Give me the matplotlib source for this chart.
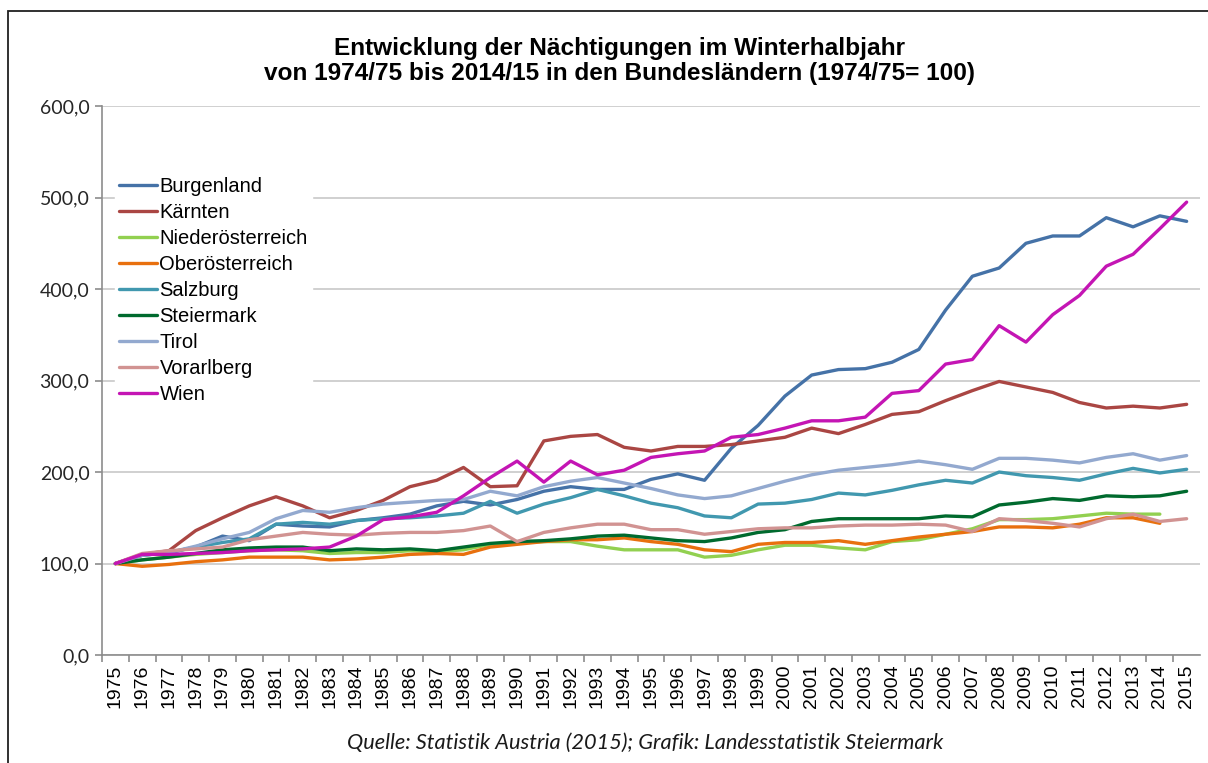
import matplotlib
matplotlib.use('Agg')
import matplotlib.pyplot as plt
from matplotlib.ticker import FuncFormatter, MultipleLocator
from matplotlib.patches import Rectangle

years = list(range(1975, 2016))

burgenland = [100, 109, 112, 118, 130, 125, 143, 141, 140, 147, 150, 154, 163,
              168, 164, 170, 179, 184, 181, 181, 192, 198, 191, 226, 251, 283,
              306, 312, 313, 320, 334, 377, 414, 423, 450, 458, 458, 478, 468,
              480, 474]
kaernten = [100, 110, 114, 136, 150, 163, 173, 163, 150, 158, 169, 184, 191,
            205, 184, 185, 234, 239, 241, 227, 223, 228, 228, 230, 234, 238,
            248, 242, 252, 263, 266, 278, 289, 299, 293, 287, 276, 270, 272,
            270, 274]
niederoe = [100, 104, 107, 110, 112, 114, 115, 114, 111, 112, 112, 114, 113,
            115, 121, 123, 124, 124, 119, 115, 115, 115, 107, 109, 115, 120,
            120, 117, 115, 124, 126, 132, 138, 148, 148, 149, 152, 155, 154,
            154]
oberoe = [100, 97, 99, 102, 104, 107, 107, 107, 104, 105, 107, 110, 111,
          110, 118, 121, 124, 126, 126, 128, 124, 121, 115, 113, 121, 123,
          123, 125, 121, 125, 129, 132, 135, 140, 140, 139, 143, 150, 150,
          144]
salzburg = [100, 109, 112, 118, 123, 127, 143, 145, 143, 147, 149, 150, 152,
            155, 168, 155, 165, 172, 181, 174, 166, 161, 152, 150, 165, 166,
            170, 177, 175, 180, 186, 191, 188, 200, 196, 194, 191, 198, 204,
            199, 203]
steiermark = [100, 104, 107, 111, 115, 117, 118, 118, 114, 116, 115, 116, 114,
              118, 122, 124, 125, 127, 130, 131, 128, 125, 124, 128, 134, 137,
              146, 149, 149, 149, 149, 152, 151, 164, 167, 171, 169, 174, 173,
              174, 179]
tirol = [100, 109, 112, 119, 127, 134, 149, 158, 156, 161, 165, 167, 169,
         170, 179, 174, 184, 190, 194, 188, 182, 175, 171, 174, 182, 190,
         197, 202, 205, 208, 212, 208, 203, 215, 215, 213, 210, 216, 220,
         213, 218]
vorarlberg = [100, 111, 114, 116, 118, 126, 130, 134, 132, 131, 133, 134, 134,
              136, 141, 124, 134, 139, 143, 143, 137, 137, 132, 135, 138, 139,
              139, 141, 142, 142, 143, 142, 135, 149, 147, 144, 140, 149, 154,
              146, 149]
wien = [100, 110, 110, 111, 112, 114, 115, 116, 118, 130, 148, 151, 156,
        174, 194, 212, 189, 212, 197, 202, 216, 220, 223, 238, 241, 248,
        256, 256, 260, 286, 289, 318, 323, 360, 342, 372, 393, 425, 438,
        466, 495]

series = [
    ('Burgenland', burgenland, '#4572a7'),
    ('Kärnten', kaernten, '#aa4643'),
    ('Niederösterreich', niederoe, '#92d050'),
    ('Oberösterreich', oberoe, '#e8700e'),
    ('Salzburg', salzburg, '#4198af'),
    ('Steiermark', steiermark, '#006a2e'),
    ('Tirol', tirol, '#93a9cf'),
    ('Vorarlberg', vorarlberg, '#d19392'),
    ('Wien', wien, '#c415b4'),
]

plt.rcParams['font.family'] = ['Liberation Sans', 'DejaVu Sans']

fig = plt.figure(figsize=(12.08, 7.63), dpi=100)
ax = fig.add_axes([0.0844, 0.1415, 0.909, 0.7195])

# plot lines
for name, vals, col in series:
    ax.plot(years[:len(vals)], vals, color=col, linewidth=2.4, label=name,
            solid_capstyle='round', solid_joinstyle='round')

# axis ranges
ax.set_xlim(1974.5, 2015.5)
ax.set_ylim(0, 600)

# grid and spines
ax.yaxis.set_major_locator(MultipleLocator(100))
ax.yaxis.set_major_formatter(FuncFormatter(lambda v, p: f'{v:.1f}'.replace('.', ',')))
ax.grid(axis='y', color='#c8c8c8', linewidth=1.2)
ax.set_axisbelow(True)
for s in ['top', 'right']:
    ax.spines[s].set_visible(False)
for s in ['left', 'bottom']:
    ax.spines[s].set_color('#8c8c8c')
    ax.spines[s].set_linewidth(1.2)

ax.set_xticks(years)
ax.set_xticklabels([str(y) for y in years], rotation=90, fontsize=14)
ax.tick_params(axis='x', length=0, pad=7)
ax.set_xticks([y + 0.5 for y in years[:-1]] + [1974.5], minor=True)
ax.tick_params(axis='x', which='minor', length=5, color='#8c8c8c', width=1.2)
ax.tick_params(axis='y', length=5, color='#8c8c8c', width=1.2, pad=4)
for lab in ax.get_yticklabels():
    lab.set_fontfamily('Lato')
    lab.set_fontsize(14)
    lab.set_color('#262626')

# legend
leg = ax.legend(loc='upper left', bbox_to_anchor=(0.012, 0.878), frameon=True,
                fontsize=14.5, handlelength=1.9, handletextpad=0.1,
                labelspacing=0.35, borderpad=0.2, borderaxespad=0)
leg.get_frame().set_edgecolor('white')
leg.get_frame().set_facecolor('white')
leg.get_frame().set_alpha(1)

# title
fig.text(0.513, 0.92, 'Entwicklung der Nächtigungen im Winterhalbjahr\n'
         'von 1974/75 bis 2014/15 in den Bundesländern (1974/75= 100)',
         ha='center', va='center', fontsize=17.6, fontweight='bold',
         linespacing=1.15)

# source
fig.text(0.534, 0.027, 'Quelle: Statistik Austria (2015); Grafik: Landesstatistik Steiermark',
         ha='center', va='center', fontsize=15.7, style='italic',
         family='Lato', color='#1a1a1a')

# outer frame
fig.patches.append(Rectangle((8 / 1208, -0.01), 1.2, 0.9956, transform=fig.transFigure,
                             fill=False, edgecolor='#202020', linewidth=1.3))

plt.savefig('out.png', dpi=100)
